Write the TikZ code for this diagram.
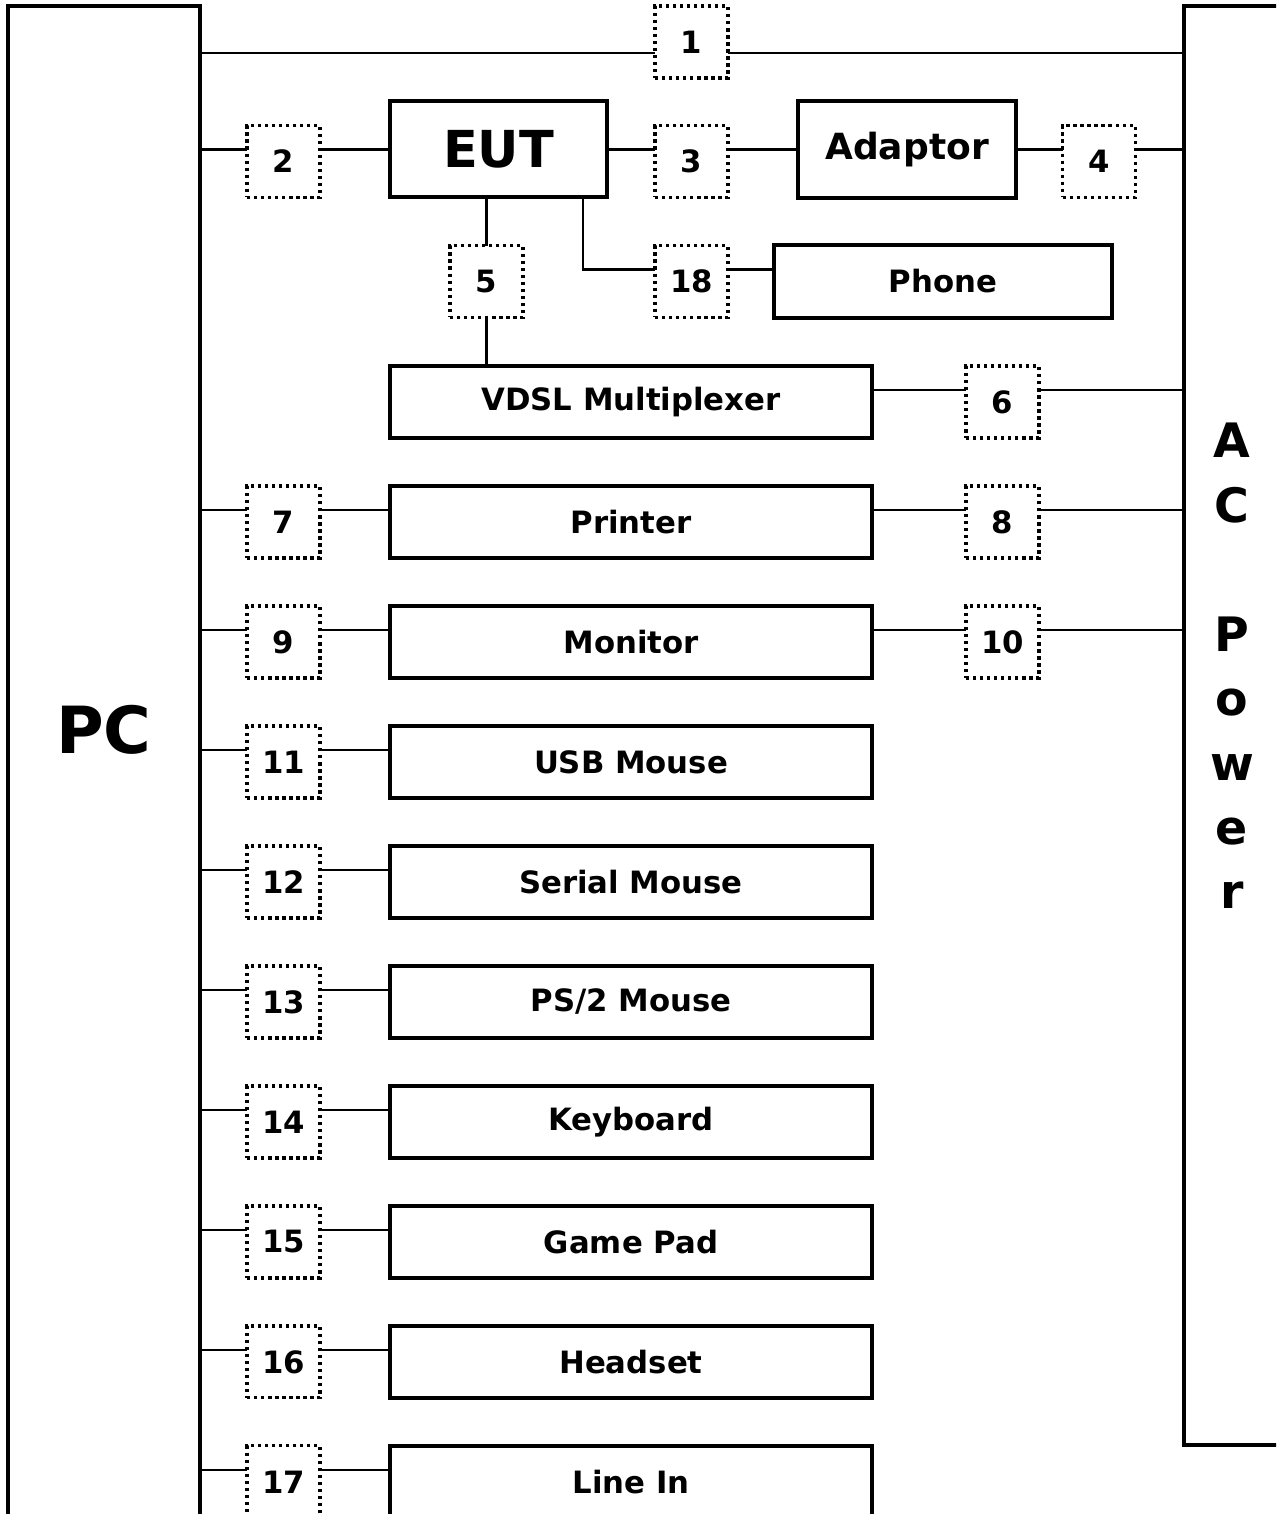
\documentclass[tikz,border=0pt]{standalone}
\usepackage{fontspec}
\setmainfont{DejaVu Sans}
\usetikzlibrary{positioning, calc}
\tikzstyle{bigbox} = [rectangle, draw=black, line width=2.4pt, inner sep=0pt, outer sep=0pt]
\tikzstyle{device} = [rectangle, draw=black, line width=2.4pt, minimum width=9.64cm, minimum height=1.44cm,
    inner sep=0pt, outer sep=0pt, fill=white, font=\fontsize{17.5}{20}\selectfont\bfseries]
\tikzstyle{port} = [rectangle, draw=black, line width=1.9pt, dash pattern=on 1.9pt off 2.1pt,
    minimum width=1.46cm, minimum height=1.44cm, inner sep=0pt, outer sep=0pt, fill=white,
    font=\fontsize{17.5}{20}\selectfont\bfseries]
\tikzstyle{wire} = [line width=1.3pt]
\newcommand{\dlift}{0.24cm}

\begin{document}
\begin{tikzpicture}[x=0.02cm, y=-0.02cm, node distance=0.96cm and 1.4cm]
\useasboundingbox (0,0) rectangle (1276,1514);
\clip (0,0) rectangle (1276,1514);

% side blocks
\node (pc) [bigbox, minimum width=3.84cm, minimum height=31.48cm] at (104,793) {};
\node (ac) [bigbox, minimum width=1.92cm, minimum height=28.78cm] at (1232,725.5) {};
\node (pclbl) [font=\fontsize{37}{40}\selectfont\bfseries] at (104,730) {PC};
\node (aclbl) [align=center, inner sep=0pt, font=\fontsize{27}{36.7}\selectfont\bfseries] at (1232,666)
    {A\\C\\[36.7pt]P\\o\\w\\e\\r};

% top part
\node (p1) [port] at (691.5,42) {1};
\node (p2) [port] at (283.5,161.5) {2};
\node (eut) [bigbox, minimum width=4.34cm, minimum height=1.92cm, font=\fontsize{29}{32}\selectfont\bfseries] at (498.5,149) {EUT};
\node (p3) [port] at (691.5,161.5) {3};
\node (adaptor) [bigbox, minimum width=4.36cm, minimum height=1.94cm, font=\fontsize{20.5}{24}\selectfont\bfseries] at (907,149.5) {Adaptor};
\node (p4) [port] at (1099,161.5) {4};
\node (p5) [port] at (486.5,281.5) {5};
\node (p18) [port] at (691.5,281.5) {18};
\node (phone) [device, minimum width=6.76cm, minimum height=1.46cm] at (943,281.5) {Phone};

% device column
\node (vdsl) [device] at (631,402) {VDSL Multiplexer};
\node (p6) [port, right=1.88cm of vdsl] {6};
\node (printer) [device, below=of vdsl] {Printer};
\node (p7) [port, left=of printer] {7};
\node (p8) [port, right=1.88cm of printer] {8};
\node (monitor) [device, below=of printer] {Monitor};
\node (p9) [port, left=of monitor] {9};
\node (p10) [port, right=1.88cm of monitor] {10};
\node (usb) [device, below=of monitor] {USB Mouse};
\node (p11) [port, left=of usb] {11};
\node (serial) [device, below=of usb] {Serial Mouse};
\node (p12) [port, left=of serial] {12};
\node (ps2) [device, below=of serial] {PS/2 Mouse};
\node (p13) [port, left=of ps2] {13};
\node (keyboard) [device, below=of ps2] {Keyboard};
\node (p14) [port, left=of keyboard] {14};
\node (gamepad) [device, below=of keyboard] {Game Pad};
\node (p15) [port, left=of gamepad] {15};
\node (headset) [device, below=of gamepad] {Headset};
\node (p16) [port, left=of headset] {16};
\node (linein) [device, below=of headset] {Line In};
\node (p17) [port, left=of linein] {17};

% wires
\draw[wire] ([yshift=-0.22cm]p1.west -| pc.east) -- ([yshift=-0.22cm]p1.west);
\draw[wire] ([yshift=-0.22cm]p1.east) -- ([yshift=-0.22cm]p1.east -| ac.west);
\draw[wire] ([yshift=\dlift]p2.west -| pc.east) -- ([yshift=\dlift]p2.west);
\draw[wire] ([yshift=\dlift]p2.east) -- ([yshift=\dlift]p2.east -| eut.west);
\draw[wire] ([yshift=\dlift]p3.west -| eut.east) -- ([yshift=\dlift]p3.west);
\draw[wire] ([yshift=\dlift]p3.east) -- ([yshift=\dlift]p3.east -| adaptor.west);
\draw[wire] ([yshift=\dlift]p4.west -| adaptor.east) -- ([yshift=\dlift]p4.west);
\draw[wire] ([yshift=\dlift]p4.east) -- ([yshift=\dlift]p4.east -| ac.west);
\draw[wire] (p5.north |- eut.south) -- (p5.north);
\draw[wire] (p5.south) -- (p5.south |- vdsl.north);
\draw[wire] ([xshift=-0.48cm]eut.south east) |- ([yshift=\dlift]p18.west);
\draw[wire] ([yshift=\dlift]p18.east) -- ([yshift=\dlift]p18.east -| phone.west);
\draw[wire] ([yshift=\dlift]p6.west -| vdsl.east) -- ([yshift=\dlift]p6.west);
\draw[wire] ([yshift=\dlift]p6.east) -- ([yshift=\dlift]p6.east -| ac.west);
\draw[wire] ([yshift=\dlift]p7.west -| pc.east) -- ([yshift=\dlift]p7.west);
\draw[wire] ([yshift=\dlift]p7.east) -- ([yshift=\dlift]p7.east -| printer.west);
\draw[wire] ([yshift=\dlift]p8.west -| printer.east) -- ([yshift=\dlift]p8.west);
\draw[wire] ([yshift=\dlift]p8.east) -- ([yshift=\dlift]p8.east -| ac.west);
\draw[wire] ([yshift=\dlift]p9.west -| pc.east) -- ([yshift=\dlift]p9.west);
\draw[wire] ([yshift=\dlift]p9.east) -- ([yshift=\dlift]p9.east -| monitor.west);
\draw[wire] ([yshift=\dlift]p10.west -| monitor.east) -- ([yshift=\dlift]p10.west);
\draw[wire] ([yshift=\dlift]p10.east) -- ([yshift=\dlift]p10.east -| ac.west);
\draw[wire] ([yshift=\dlift]p11.west -| pc.east) -- ([yshift=\dlift]p11.west);
\draw[wire] ([yshift=\dlift]p11.east) -- ([yshift=\dlift]p11.east -| usb.west);
\draw[wire] ([yshift=\dlift]p12.west -| pc.east) -- ([yshift=\dlift]p12.west);
\draw[wire] ([yshift=\dlift]p12.east) -- ([yshift=\dlift]p12.east -| serial.west);
\draw[wire] ([yshift=\dlift]p13.west -| pc.east) -- ([yshift=\dlift]p13.west);
\draw[wire] ([yshift=\dlift]p13.east) -- ([yshift=\dlift]p13.east -| ps2.west);
\draw[wire] ([yshift=\dlift]p14.west -| pc.east) -- ([yshift=\dlift]p14.west);
\draw[wire] ([yshift=\dlift]p14.east) -- ([yshift=\dlift]p14.east -| keyboard.west);
\draw[wire] ([yshift=\dlift]p15.west -| pc.east) -- ([yshift=\dlift]p15.west);
\draw[wire] ([yshift=\dlift]p15.east) -- ([yshift=\dlift]p15.east -| gamepad.west);
\draw[wire] ([yshift=\dlift]p16.west -| pc.east) -- ([yshift=\dlift]p16.west);
\draw[wire] ([yshift=\dlift]p16.east) -- ([yshift=\dlift]p16.east -| headset.west);
\draw[wire] ([yshift=\dlift]p17.west -| pc.east) -- ([yshift=\dlift]p17.west);
\draw[wire] ([yshift=\dlift]p17.east) -- ([yshift=\dlift]p17.east -| linein.west);
\end{tikzpicture}
\end{document}
